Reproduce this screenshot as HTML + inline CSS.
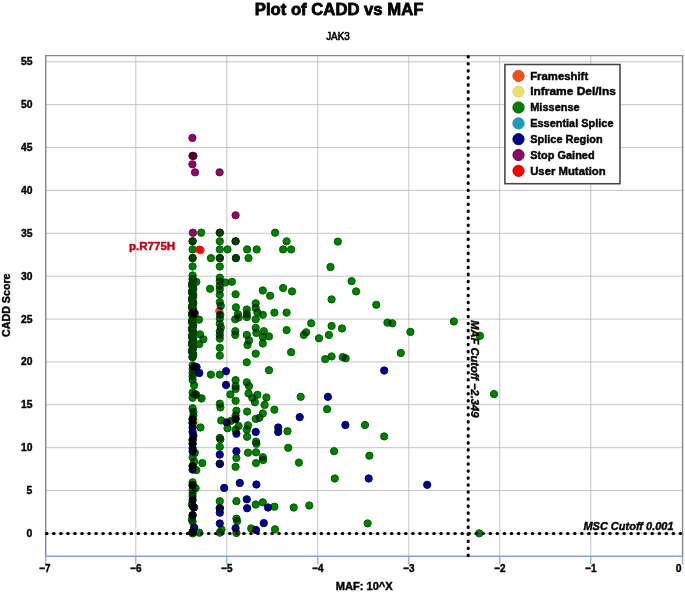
<!DOCTYPE html>
<html lang="en"><head><meta charset="utf-8"><title>Plot of CADD vs MAF</title>
<style>html,body{margin:0;padding:0;background:#fff;}svg{display:block;filter:blur(0.35px);}text{font-family:"Liberation Sans", "DejaVu Sans", sans-serif;font-weight:bold;font-size:11px;fill:#000;stroke:#000;stroke-width:0.42px;}.pt{isolation:isolate;}.pt .nb circle{mix-blend-mode:normal;}.pt circle{mix-blend-mode:multiply;stroke-width:1;}</style></head><body>
<svg width="685" height="593" viewBox="0 0 685 593">
<rect x="0" y="0" width="685" height="593" fill="#ffffff"/>
<g stroke="#b6b9bc" stroke-width="0.85" fill="none">
<line x1="135.8" y1="55.6" x2="135.8" y2="556.3"/>
<line x1="226.8" y1="55.6" x2="226.8" y2="556.3"/>
<line x1="317.8" y1="55.6" x2="317.8" y2="556.3"/>
<line x1="408.8" y1="55.6" x2="408.8" y2="556.3"/>
<line x1="499.8" y1="55.6" x2="499.8" y2="556.3"/>
<line x1="590.8" y1="55.6" x2="590.8" y2="556.3"/>
<line x1="45.7" y1="61.8" x2="682.6" y2="61.8"/>
<line x1="45.7" y1="104.7" x2="682.6" y2="104.7"/>
<line x1="45.7" y1="147.6" x2="682.6" y2="147.6"/>
<line x1="45.7" y1="190.4" x2="682.6" y2="190.4"/>
<line x1="45.7" y1="233.3" x2="682.6" y2="233.3"/>
<line x1="45.7" y1="276.2" x2="682.6" y2="276.2"/>
<line x1="45.7" y1="319.1" x2="682.6" y2="319.1"/>
<line x1="45.7" y1="361.9" x2="682.6" y2="361.9"/>
<line x1="45.7" y1="404.8" x2="682.6" y2="404.8"/>
<line x1="45.7" y1="447.7" x2="682.6" y2="447.7"/>
<line x1="45.7" y1="490.6" x2="682.6" y2="490.6"/>
</g>
<line x1="45.7" y1="533.45" x2="682.6" y2="533.45" stroke="#d4d7da" stroke-width="1.1"/>
<path d="M45.7 556.3 L45.7 55.6 L682.6 55.6 L682.6 556.3" fill="none" stroke="#868686" stroke-width="1.4"/>
<g stroke="#84a3dc" stroke-width="1.45" fill="none"><line x1="45.1" y1="556.3" x2="683.2" y2="556.3"/>
<line x1="45.7" y1="556.3" x2="45.7" y2="564.6" stroke-width="1.2"/>
<line x1="135.8" y1="556.3" x2="135.8" y2="564.6" stroke-width="1.2"/>
<line x1="226.8" y1="556.3" x2="226.8" y2="564.6" stroke-width="1.2"/>
<line x1="317.8" y1="556.3" x2="317.8" y2="564.6" stroke-width="1.2"/>
<line x1="408.8" y1="556.3" x2="408.8" y2="564.6" stroke-width="1.2"/>
<line x1="499.8" y1="556.3" x2="499.8" y2="564.6" stroke-width="1.2"/>
<line x1="590.8" y1="556.3" x2="590.8" y2="564.6" stroke-width="1.2"/>
<line x1="682.6" y1="556.3" x2="682.6" y2="564.6" stroke-width="1.2"/>
</g>
<g class="pt">
<g fill="#ecdc78" stroke="#e4d468">
<circle cx="193.1" cy="233.0" r="3.65"/>
<circle cx="220.7" cy="314.8" r="3.65"/>
<circle cx="201.7" cy="397.8" r="3.65"/>
<circle cx="195.3" cy="422.3" r="3.65"/>
</g>
<g fill="#f0521e" stroke="#e04818">
<circle cx="200.6" cy="250.2" r="3.65"/>
<circle cx="219.3" cy="311.0" r="3.65"/>
</g>
<g fill="#007c00" stroke="#005f00">
<circle cx="201.2" cy="232.7" r="3.65"/>
<circle cx="219.8" cy="232.7" r="3.65"/>
<circle cx="219.8" cy="232.7" r="3.65"/>
<circle cx="192.6" cy="241.3" r="3.65"/>
<circle cx="235.6" cy="241.3" r="3.65"/>
<circle cx="192.6" cy="258.1" r="3.65"/>
<circle cx="219.8" cy="258.1" r="3.65"/>
<circle cx="235.9" cy="258.1" r="3.65"/>
<circle cx="275.1" cy="232.7" r="3.65"/>
<circle cx="192.6" cy="241.3" r="3.65"/>
<circle cx="219.8" cy="241.3" r="3.65"/>
<circle cx="235.6" cy="241.3" r="3.65"/>
<circle cx="192.6" cy="249.4" r="3.65"/>
<circle cx="219.8" cy="249.4" r="3.65"/>
<circle cx="227.5" cy="249.4" r="3.65"/>
<circle cx="247.1" cy="249.4" r="3.65"/>
<circle cx="256.7" cy="249.4" r="3.65"/>
<circle cx="192.6" cy="258.1" r="3.65"/>
<circle cx="210.9" cy="258.1" r="3.65"/>
<circle cx="219.8" cy="258.1" r="3.65"/>
<circle cx="235.9" cy="258.1" r="3.65"/>
<circle cx="248.5" cy="258.1" r="3.65"/>
<circle cx="192.6" cy="266.5" r="3.65"/>
<circle cx="219.8" cy="266.5" r="3.65"/>
<circle cx="192.6" cy="275.4" r="3.65"/>
<circle cx="196.3" cy="281.8" r="3.65"/>
<circle cx="219.8" cy="277.6" r="3.65"/>
<circle cx="219.8" cy="281.3" r="3.65"/>
<circle cx="225.3" cy="282.5" r="3.65"/>
<circle cx="231.9" cy="281.8" r="3.65"/>
<circle cx="210.1" cy="288.8" r="3.65"/>
<circle cx="219.8" cy="285.8" r="3.65"/>
<circle cx="219.8" cy="289.5" r="3.65"/>
<circle cx="219.8" cy="294.7" r="3.65"/>
<circle cx="235.6" cy="294.3" r="3.65"/>
<circle cx="262.8" cy="290.5" r="3.65"/>
<circle cx="270.1" cy="295.7" r="3.65"/>
<circle cx="219.8" cy="302.1" r="3.65"/>
<circle cx="220.8" cy="305.8" r="3.65"/>
<circle cx="255.7" cy="303.3" r="3.65"/>
<circle cx="235.9" cy="307.3" r="3.65"/>
<circle cx="246.8" cy="309.5" r="3.65"/>
<circle cx="255.7" cy="308.1" r="3.65"/>
<circle cx="192.6" cy="279.1" r="3.65"/>
<circle cx="192.6" cy="282.8" r="3.65"/>
<circle cx="192.6" cy="286.5" r="3.65"/>
<circle cx="192.6" cy="290.2" r="3.65"/>
<circle cx="192.6" cy="294.0" r="3.65"/>
<circle cx="192.6" cy="297.7" r="3.65"/>
<circle cx="192.6" cy="301.4" r="3.65"/>
<circle cx="192.6" cy="305.1" r="3.65"/>
<circle cx="192.6" cy="308.8" r="3.65"/>
<circle cx="199.0" cy="319.6" r="3.65"/>
<circle cx="200.0" cy="334.4" r="3.65"/>
<circle cx="203.4" cy="339.3" r="3.65"/>
<circle cx="199.3" cy="344.1" r="3.65"/>
<circle cx="192.6" cy="316.3" r="3.65"/>
<circle cx="192.6" cy="320.0" r="3.65"/>
<circle cx="192.6" cy="323.7" r="3.65"/>
<circle cx="192.6" cy="327.4" r="3.65"/>
<circle cx="192.6" cy="331.2" r="3.65"/>
<circle cx="192.6" cy="334.9" r="3.65"/>
<circle cx="192.6" cy="338.6" r="3.65"/>
<circle cx="192.6" cy="342.3" r="3.65"/>
<circle cx="192.6" cy="346.0" r="3.65"/>
<circle cx="192.6" cy="349.7" r="3.65"/>
<circle cx="192.6" cy="353.4" r="3.65"/>
<circle cx="192.6" cy="357.1" r="3.65"/>
<circle cx="192.6" cy="365.3" r="3.65"/>
<circle cx="192.6" cy="372.7" r="3.65"/>
<circle cx="192.6" cy="376.4" r="3.65"/>
<circle cx="192.6" cy="380.1" r="3.65"/>
<circle cx="194.1" cy="385.3" r="3.65"/>
<circle cx="192.6" cy="369.0" r="3.65"/>
<circle cx="220.1" cy="314.8" r="3.65"/>
<circle cx="219.8" cy="318.5" r="3.65"/>
<circle cx="219.8" cy="323.7" r="3.65"/>
<circle cx="220.8" cy="327.4" r="3.65"/>
<circle cx="219.8" cy="331.2" r="3.65"/>
<circle cx="219.8" cy="334.9" r="3.65"/>
<circle cx="219.8" cy="338.6" r="3.65"/>
<circle cx="219.8" cy="347.8" r="3.65"/>
<circle cx="219.8" cy="355.6" r="3.65"/>
<circle cx="219.8" cy="374.6" r="3.65"/>
<circle cx="210.9" cy="374.6" r="3.65"/>
<circle cx="237.9" cy="314.1" r="3.65"/>
<circle cx="235.2" cy="319.3" r="3.65"/>
<circle cx="238.6" cy="317.5" r="3.65"/>
<circle cx="246.8" cy="314.1" r="3.65"/>
<circle cx="246.8" cy="317.1" r="3.65"/>
<circle cx="257.4" cy="312.6" r="3.65"/>
<circle cx="255.7" cy="319.3" r="3.65"/>
<circle cx="262.8" cy="314.8" r="3.65"/>
<circle cx="274.4" cy="312.6" r="3.65"/>
<circle cx="235.3" cy="331.2" r="3.65"/>
<circle cx="235.3" cy="334.9" r="3.65"/>
<circle cx="255.7" cy="327.9" r="3.65"/>
<circle cx="256.4" cy="332.9" r="3.65"/>
<circle cx="263.8" cy="331.2" r="3.65"/>
<circle cx="262.8" cy="337.1" r="3.65"/>
<circle cx="269.0" cy="336.4" r="3.65"/>
<circle cx="246.8" cy="334.9" r="3.65"/>
<circle cx="249.0" cy="340.4" r="3.65"/>
<circle cx="247.5" cy="345.0" r="3.65"/>
<circle cx="262.8" cy="343.5" r="3.65"/>
<circle cx="255.7" cy="353.7" r="3.65"/>
<circle cx="246.8" cy="362.3" r="3.65"/>
<circle cx="269.0" cy="370.2" r="3.65"/>
<circle cx="235.6" cy="380.1" r="3.65"/>
<circle cx="235.6" cy="386.1" r="3.65"/>
<circle cx="246.8" cy="382.3" r="3.65"/>
<circle cx="249.0" cy="386.1" r="3.65"/>
<circle cx="192.6" cy="392.6" r="3.65"/>
<circle cx="194.8" cy="394.1" r="3.65"/>
<circle cx="192.6" cy="397.8" r="3.65"/>
<circle cx="196.3" cy="394.8" r="3.65"/>
<circle cx="201.5" cy="398.5" r="3.65"/>
<circle cx="192.6" cy="408.2" r="3.65"/>
<circle cx="193.4" cy="411.9" r="3.65"/>
<circle cx="193.4" cy="415.6" r="3.65"/>
<circle cx="192.6" cy="419.3" r="3.65"/>
<circle cx="192.6" cy="422.7" r="3.65"/>
<circle cx="192.6" cy="439.3" r="3.65"/>
<circle cx="192.6" cy="443.5" r="3.65"/>
<circle cx="200.5" cy="427.5" r="3.65"/>
<circle cx="194.8" cy="452.7" r="3.65"/>
<circle cx="192.6" cy="457.2" r="3.65"/>
<circle cx="194.1" cy="461.6" r="3.65"/>
<circle cx="202.3" cy="463.1" r="3.65"/>
<circle cx="192.6" cy="466.1" r="3.65"/>
<circle cx="219.8" cy="403.7" r="3.65"/>
<circle cx="220.4" cy="407.4" r="3.65"/>
<circle cx="221.2" cy="420.4" r="3.65"/>
<circle cx="219.8" cy="437.9" r="3.65"/>
<circle cx="220.4" cy="439.3" r="3.65"/>
<circle cx="219.8" cy="446.8" r="3.65"/>
<circle cx="230.4" cy="394.4" r="3.65"/>
<circle cx="231.2" cy="420.8" r="3.65"/>
<circle cx="227.5" cy="428.2" r="3.65"/>
<circle cx="235.6" cy="388.9" r="3.65"/>
<circle cx="235.6" cy="400.8" r="3.65"/>
<circle cx="236.4" cy="410.7" r="3.65"/>
<circle cx="235.6" cy="415.6" r="3.65"/>
<circle cx="235.6" cy="418.9" r="3.65"/>
<circle cx="238.6" cy="426.0" r="3.65"/>
<circle cx="235.6" cy="429.7" r="3.65"/>
<circle cx="236.4" cy="457.9" r="3.65"/>
<circle cx="235.6" cy="466.8" r="3.65"/>
<circle cx="248.5" cy="393.4" r="3.65"/>
<circle cx="252.3" cy="397.8" r="3.65"/>
<circle cx="257.4" cy="394.8" r="3.65"/>
<circle cx="254.9" cy="402.3" r="3.65"/>
<circle cx="266.4" cy="397.5" r="3.65"/>
<circle cx="264.6" cy="404.9" r="3.65"/>
<circle cx="274.4" cy="409.7" r="3.65"/>
<circle cx="247.1" cy="411.6" r="3.65"/>
<circle cx="262.8" cy="413.4" r="3.65"/>
<circle cx="259.4" cy="417.8" r="3.65"/>
<circle cx="255.7" cy="418.9" r="3.65"/>
<circle cx="248.0" cy="425.3" r="3.65"/>
<circle cx="246.8" cy="429.7" r="3.65"/>
<circle cx="247.1" cy="436.8" r="3.65"/>
<circle cx="256.0" cy="441.6" r="3.65"/>
<circle cx="256.4" cy="443.8" r="3.65"/>
<circle cx="248.0" cy="452.7" r="3.65"/>
<circle cx="256.0" cy="452.3" r="3.65"/>
<circle cx="262.8" cy="457.2" r="3.65"/>
<circle cx="256.0" cy="463.1" r="3.65"/>
<circle cx="196.3" cy="470.1" r="3.65"/>
<circle cx="192.6" cy="482.3" r="3.65"/>
<circle cx="192.6" cy="485.2" r="3.65"/>
<circle cx="195.6" cy="488.2" r="3.65"/>
<circle cx="192.6" cy="489.7" r="3.65"/>
<circle cx="192.6" cy="493.4" r="3.65"/>
<circle cx="192.6" cy="496.4" r="3.65"/>
<circle cx="191.9" cy="504.5" r="3.65"/>
<circle cx="193.1" cy="506.7" r="3.65"/>
<circle cx="192.6" cy="515.2" r="3.65"/>
<circle cx="191.9" cy="519.3" r="3.65"/>
<circle cx="192.6" cy="521.6" r="3.65"/>
<circle cx="192.6" cy="532.0" r="3.65"/>
<circle cx="192.6" cy="533.4" r="3.65"/>
<circle cx="199.3" cy="532.7" r="3.65"/>
<circle cx="219.8" cy="501.2" r="3.65"/>
<circle cx="221.5" cy="529.7" r="3.65"/>
<circle cx="219.8" cy="532.7" r="3.65"/>
<circle cx="236.4" cy="501.2" r="3.65"/>
<circle cx="236.4" cy="518.6" r="3.65"/>
<circle cx="237.1" cy="521.1" r="3.65"/>
<circle cx="236.4" cy="533.0" r="3.65"/>
<circle cx="263.1" cy="460.0" r="3.65"/>
<circle cx="255.7" cy="504.5" r="3.65"/>
<circle cx="262.8" cy="502.3" r="3.65"/>
<circle cx="274.4" cy="506.7" r="3.65"/>
<circle cx="251.2" cy="528.5" r="3.65"/>
<circle cx="275.0" cy="529.3" r="3.65"/>
<circle cx="286.6" cy="241.3" r="3.65"/>
<circle cx="283.1" cy="249.4" r="3.65"/>
<circle cx="291.1" cy="249.4" r="3.65"/>
<circle cx="337.8" cy="241.6" r="3.65"/>
<circle cx="330.5" cy="267.0" r="3.65"/>
<circle cx="351.6" cy="281.1" r="3.65"/>
<circle cx="356.1" cy="291.4" r="3.65"/>
<circle cx="331.6" cy="299.4" r="3.65"/>
<circle cx="283.1" cy="288.0" r="3.65"/>
<circle cx="292.0" cy="291.4" r="3.65"/>
<circle cx="286.6" cy="312.6" r="3.65"/>
<circle cx="311.2" cy="323.3" r="3.65"/>
<circle cx="286.6" cy="330.1" r="3.65"/>
<circle cx="306.1" cy="332.3" r="3.65"/>
<circle cx="303.8" cy="334.9" r="3.65"/>
<circle cx="319.0" cy="338.3" r="3.65"/>
<circle cx="331.6" cy="326.0" r="3.65"/>
<circle cx="342.0" cy="328.5" r="3.65"/>
<circle cx="328.9" cy="334.9" r="3.65"/>
<circle cx="291.1" cy="352.2" r="3.65"/>
<circle cx="325.2" cy="359.1" r="3.65"/>
<circle cx="331.6" cy="356.4" r="3.65"/>
<circle cx="342.7" cy="357.1" r="3.65"/>
<circle cx="345.7" cy="358.3" r="3.65"/>
<circle cx="300.7" cy="396.8" r="3.65"/>
<circle cx="327.1" cy="409.2" r="3.65"/>
<circle cx="287.5" cy="431.2" r="3.65"/>
<circle cx="288.2" cy="447.8" r="3.65"/>
<circle cx="298.9" cy="462.6" r="3.65"/>
<circle cx="334.1" cy="451.2" r="3.65"/>
<circle cx="365.0" cy="425.0" r="3.65"/>
<circle cx="369.4" cy="455.7" r="3.65"/>
<circle cx="334.8" cy="478.5" r="3.65"/>
<circle cx="293.7" cy="507.5" r="3.65"/>
<circle cx="309.3" cy="505.5" r="3.65"/>
<circle cx="367.6" cy="523.4" r="3.65"/>
<circle cx="376.3" cy="304.8" r="3.65"/>
<circle cx="387.4" cy="322.6" r="3.65"/>
<circle cx="392.3" cy="323.3" r="3.65"/>
<circle cx="410.4" cy="331.9" r="3.65"/>
<circle cx="400.8" cy="353.0" r="3.65"/>
<circle cx="453.8" cy="321.5" r="3.65"/>
<circle cx="384.2" cy="436.4" r="3.65"/>
<circle cx="479.9" cy="335.8" r="3.65"/>
<circle cx="494.0" cy="394.1" r="3.65"/>
<circle cx="479.2" cy="533.3" r="3.65"/>
</g>
<g fill="#004600" stroke="#003e00" class="nb">
<circle cx="192.6" cy="279.0" r="3.65"/>
<circle cx="193.3" cy="281.0" r="3.65"/>
<circle cx="192.4" cy="283.0" r="3.65"/>
<circle cx="192.0" cy="285.0" r="3.65"/>
<circle cx="192.9" cy="287.0" r="3.65"/>
<circle cx="193.2" cy="289.0" r="3.65"/>
<circle cx="192.1" cy="291.0" r="3.65"/>
<circle cx="192.2" cy="293.0" r="3.65"/>
<circle cx="193.2" cy="295.0" r="3.65"/>
<circle cx="192.9" cy="297.0" r="3.65"/>
<circle cx="191.9" cy="299.0" r="3.65"/>
<circle cx="192.5" cy="301.0" r="3.65"/>
<circle cx="193.3" cy="303.0" r="3.65"/>
<circle cx="192.5" cy="305.0" r="3.65"/>
<circle cx="191.9" cy="307.0" r="3.65"/>
<circle cx="192.9" cy="309.0" r="3.65"/>
<circle cx="193.2" cy="311.0" r="3.65"/>
<circle cx="192.2" cy="313.0" r="3.65"/>
<circle cx="192.1" cy="315.0" r="3.65"/>
<circle cx="193.1" cy="317.0" r="3.65"/>
<circle cx="193.0" cy="319.0" r="3.65"/>
<circle cx="192.0" cy="321.0" r="3.65"/>
<circle cx="192.4" cy="323.0" r="3.65"/>
<circle cx="193.3" cy="325.0" r="3.65"/>
<circle cx="192.6" cy="327.0" r="3.65"/>
<circle cx="191.9" cy="329.0" r="3.65"/>
<circle cx="192.8" cy="331.0" r="3.65"/>
<circle cx="193.3" cy="333.0" r="3.65"/>
<circle cx="192.3" cy="335.0" r="3.65"/>
<circle cx="192.0" cy="337.0" r="3.65"/>
<circle cx="193.1" cy="339.0" r="3.65"/>
<circle cx="193.1" cy="341.0" r="3.65"/>
<circle cx="192.0" cy="343.0" r="3.65"/>
<circle cx="192.3" cy="345.0" r="3.65"/>
<circle cx="193.3" cy="347.0" r="3.65"/>
<circle cx="192.7" cy="349.0" r="3.65"/>
<circle cx="191.9" cy="351.0" r="3.65"/>
<circle cx="192.6" cy="353.0" r="3.65"/>
<circle cx="193.3" cy="355.0" r="3.65"/>
<circle cx="192.4" cy="357.0" r="3.65"/>
</g>
<g fill="#000082" stroke="#00006a">
<circle cx="193.4" cy="313.1" r="3.65"/>
<circle cx="194.4" cy="366.8" r="3.65"/>
<circle cx="196.6" cy="367.1" r="3.65"/>
<circle cx="199.3" cy="373.0" r="3.65"/>
<circle cx="226.0" cy="371.2" r="3.65"/>
<circle cx="226.0" cy="384.9" r="3.65"/>
<circle cx="192.6" cy="419.3" r="3.65"/>
<circle cx="192.6" cy="423.0" r="3.65"/>
<circle cx="192.6" cy="427.5" r="3.65"/>
<circle cx="192.6" cy="431.9" r="3.65"/>
<circle cx="193.4" cy="435.6" r="3.65"/>
<circle cx="192.6" cy="440.1" r="3.65"/>
<circle cx="192.6" cy="443.8" r="3.65"/>
<circle cx="192.6" cy="448.2" r="3.65"/>
<circle cx="192.6" cy="451.2" r="3.65"/>
<circle cx="192.6" cy="466.1" r="3.65"/>
<circle cx="219.8" cy="454.6" r="3.65"/>
<circle cx="219.8" cy="463.8" r="3.65"/>
<circle cx="219.8" cy="463.8" r="3.65"/>
<circle cx="226.7" cy="422.3" r="3.65"/>
<circle cx="235.6" cy="418.9" r="3.65"/>
<circle cx="236.4" cy="433.7" r="3.65"/>
<circle cx="236.4" cy="451.2" r="3.65"/>
<circle cx="255.7" cy="431.9" r="3.65"/>
<circle cx="278.2" cy="427.5" r="3.65"/>
<circle cx="278.2" cy="431.9" r="3.65"/>
<circle cx="192.6" cy="469.6" r="3.65"/>
<circle cx="192.6" cy="485.2" r="3.65"/>
<circle cx="192.6" cy="500.1" r="3.65"/>
<circle cx="193.1" cy="506.7" r="3.65"/>
<circle cx="194.1" cy="507.5" r="3.65"/>
<circle cx="192.6" cy="515.2" r="3.65"/>
<circle cx="194.1" cy="527.5" r="3.65"/>
<circle cx="192.6" cy="532.0" r="3.65"/>
<circle cx="219.8" cy="508.2" r="3.65"/>
<circle cx="219.8" cy="508.2" r="3.65"/>
<circle cx="219.8" cy="512.7" r="3.65"/>
<circle cx="219.8" cy="523.5" r="3.65"/>
<circle cx="224.2" cy="487.9" r="3.65"/>
<circle cx="235.6" cy="528.2" r="3.65"/>
<circle cx="239.8" cy="483.0" r="3.65"/>
<circle cx="256.4" cy="484.5" r="3.65"/>
<circle cx="246.8" cy="499.3" r="3.65"/>
<circle cx="247.1" cy="508.2" r="3.65"/>
<circle cx="268.0" cy="507.5" r="3.65"/>
<circle cx="263.8" cy="523.1" r="3.65"/>
<circle cx="256.0" cy="530.0" r="3.65"/>
<circle cx="327.9" cy="396.8" r="3.65"/>
<circle cx="299.7" cy="417.1" r="3.65"/>
<circle cx="345.4" cy="425.0" r="3.65"/>
<circle cx="368.7" cy="478.5" r="3.65"/>
<circle cx="384.2" cy="370.5" r="3.65"/>
<circle cx="427.2" cy="484.8" r="3.65"/>
</g>
<g fill="#880a60" stroke="#6e0850">
<circle cx="194.8" cy="313.4" r="3.65"/>
<circle cx="192.4" cy="137.9" r="3.65"/>
<circle cx="192.4" cy="155.8" r="3.65"/>
<circle cx="193.5" cy="156.0" r="3.65"/>
<circle cx="192.4" cy="164.3" r="3.65"/>
<circle cx="195.0" cy="172.3" r="3.65"/>
<circle cx="219.6" cy="172.3" r="3.65"/>
<circle cx="235.6" cy="215.3" r="3.65"/>
</g>
<g fill="#860a5e" stroke="#74084f" class="nb">
<circle cx="192.9" cy="232.7" r="3.65"/>
</g>
<g fill="#f00800" stroke="#e41000" class="nb">
<circle cx="199.4" cy="249.6" r="3.65"/>
</g></g>
<line x1="46.55" y1="533.45" x2="683.1" y2="533.45" stroke="#000" stroke-width="3.1" stroke-linecap="round" stroke-dasharray="0.5 6.54"/>
<line x1="468.2" y1="56.55" x2="468.2" y2="556.3" stroke="#000" stroke-width="3.1" stroke-linecap="round" stroke-dasharray="0.5 6.52"/>
<text x="583.4" y="530.3" style="font-style:italic;font-size:11.8px" textLength="90.2" lengthAdjust="spacingAndGlyphs">MSC Cutoff 0.001</text>
<text transform="translate(471.1 320.2) rotate(90)" x="0" y="0" style="font-style:italic;font-size:11.8px" textLength="97.2" lengthAdjust="spacingAndGlyphs">MAF Cutoff −2.349</text>
<rect x="504.9" y="64.5" width="115.1" height="119.2" fill="#fff" stroke="#454545" stroke-width="1.55"/>
<circle cx="518.5" cy="75.9" r="5.6" fill="#f0521e" stroke="#e04818" stroke-width="1"/>
<text x="530.2" y="79.6" textLength="58.0" lengthAdjust="spacingAndGlyphs">Frameshift</text>
<circle cx="518.5" cy="91.7" r="5.6" fill="#ecdc78" stroke="#e4d468" stroke-width="1"/>
<text x="530.2" y="95.4" textLength="85.7" lengthAdjust="spacingAndGlyphs">Inframe Del/Ins</text>
<circle cx="518.5" cy="107.5" r="5.6" fill="#007c00" stroke="#005f00" stroke-width="1"/>
<text x="530.2" y="111.2" textLength="49.5" lengthAdjust="spacingAndGlyphs">Missense</text>
<circle cx="518.5" cy="123.4" r="5.6" fill="#1c9cb8" stroke="#1890a8" stroke-width="1"/>
<text x="530.2" y="127.1" textLength="83.3" lengthAdjust="spacingAndGlyphs">Essential Splice</text>
<circle cx="518.5" cy="139.2" r="5.6" fill="#000082" stroke="#00006a" stroke-width="1"/>
<text x="530.2" y="142.9" textLength="72.5" lengthAdjust="spacingAndGlyphs">Splice Region</text>
<circle cx="518.5" cy="155.0" r="5.6" fill="#880a60" stroke="#6e0850" stroke-width="1"/>
<text x="530.2" y="158.7" textLength="64.4" lengthAdjust="spacingAndGlyphs">Stop Gained</text>
<circle cx="518.5" cy="170.8" r="5.6" fill="#f00800" stroke="#d80600" stroke-width="1"/>
<text x="530.2" y="174.5" textLength="75.5" lengthAdjust="spacingAndGlyphs">User Mutation</text>
<text x="254.8" y="14.9" style="font-size:17.2px;stroke-width:0.8px" textLength="168.6" lengthAdjust="spacingAndGlyphs">Plot of CADD vs MAF</text>
<text x="326.2" y="39.7" style="font-size:11.5px;font-weight:normal;stroke-width:0.65px" stroke="#000" stroke-width="0.25" textLength="23.5" lengthAdjust="spacingAndGlyphs">JAK3</text>
<text x="20.9" y="65.3" textLength="11.5" lengthAdjust="spacingAndGlyphs">55</text>
<text x="20.9" y="108.2" textLength="11.5" lengthAdjust="spacingAndGlyphs">50</text>
<text x="20.9" y="151.1" textLength="11.5" lengthAdjust="spacingAndGlyphs">45</text>
<text x="20.9" y="193.9" textLength="11.5" lengthAdjust="spacingAndGlyphs">40</text>
<text x="20.9" y="236.8" textLength="11.5" lengthAdjust="spacingAndGlyphs">35</text>
<text x="20.9" y="279.7" textLength="11.5" lengthAdjust="spacingAndGlyphs">30</text>
<text x="20.9" y="322.6" textLength="11.5" lengthAdjust="spacingAndGlyphs">25</text>
<text x="20.9" y="365.4" textLength="11.5" lengthAdjust="spacingAndGlyphs">20</text>
<text x="20.9" y="408.3" textLength="11.5" lengthAdjust="spacingAndGlyphs">15</text>
<text x="20.9" y="451.2" textLength="11.5" lengthAdjust="spacingAndGlyphs">10</text>
<text x="26.6" y="494.1" textLength="5.8" lengthAdjust="spacingAndGlyphs">5</text>
<text x="26.6" y="537.0" textLength="5.8" lengthAdjust="spacingAndGlyphs">0</text>
<text x="39.3" y="572.3" textLength="11.3" lengthAdjust="spacingAndGlyphs">−7</text>
<text x="130.3" y="572.3" textLength="11.3" lengthAdjust="spacingAndGlyphs">−6</text>
<text x="221.3" y="572.3" textLength="11.3" lengthAdjust="spacingAndGlyphs">−5</text>
<text x="312.3" y="572.3" textLength="11.3" lengthAdjust="spacingAndGlyphs">−4</text>
<text x="403.3" y="572.3" textLength="11.3" lengthAdjust="spacingAndGlyphs">−3</text>
<text x="494.3" y="572.3" textLength="11.3" lengthAdjust="spacingAndGlyphs">−2</text>
<text x="585.3" y="572.3" textLength="11.3" lengthAdjust="spacingAndGlyphs">−1</text>
<text x="675.7" y="572.3" textLength="5.8" lengthAdjust="spacingAndGlyphs">0</text>
<text x="335.8" y="589.8" textLength="56.9" lengthAdjust="spacingAndGlyphs">MAF: 10^X</text>
<text transform="translate(10.2 336.9) rotate(-90)" x="0" y="0" textLength="63.4" lengthAdjust="spacingAndGlyphs">CADD Score</text>
<text x="129.0" y="250.1" fill="#c00018" style="fill:#c00018;stroke:#c00018" textLength="46.2" lengthAdjust="spacingAndGlyphs">p.R775H</text>
</svg></body></html>
